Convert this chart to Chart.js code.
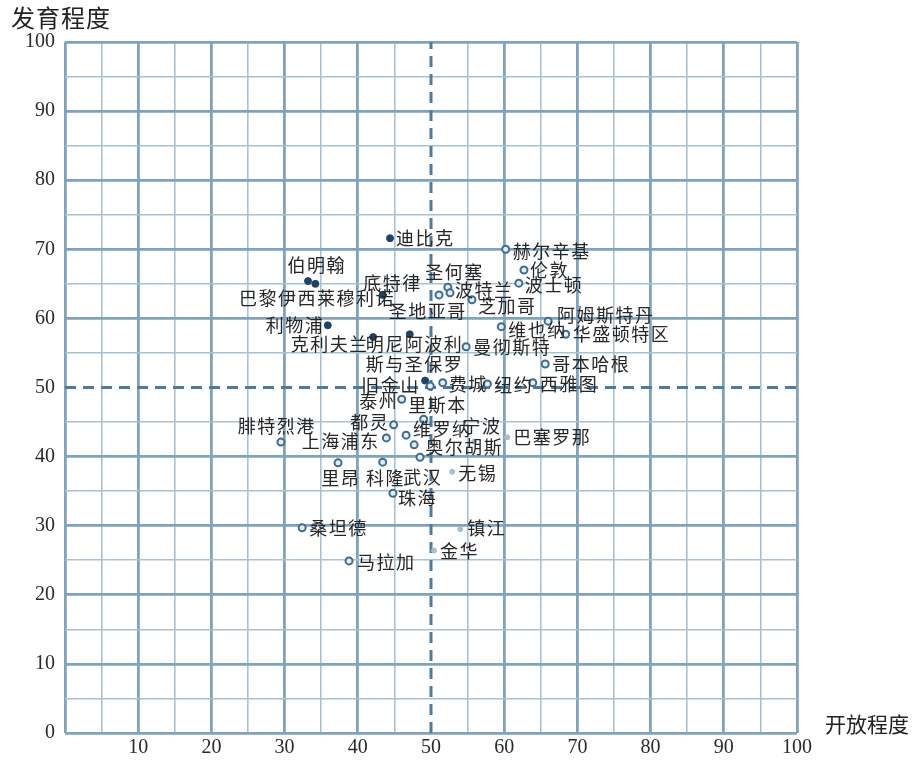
<!DOCTYPE html>
<html lang="zh">
<head>
  <meta charset="UTF-8">
  <title>开放程度与发育程度</title>
  <script src="https://cdn.jsdelivr.net/npm/chart.js"></script>
  <style>
    * { margin: 0; padding: 0; box-sizing: border-box; }
    body { background: #fff; width: 917px; height: 767px; overflow: hidden; }
    .wrap { position: relative; width: 917px; height: 767px; }
  </style>
</head>
<body>
  <div class="wrap">
    <canvas id="chart" width="917" height="767"></canvas>
  </div>

  <script>
    // city names, openness (x) and development (y), marker group
    const cities = [
      '迪比克', '赫尔辛基', '伦敦', '波士顿', '伯明翰', '巴黎伊西莱穆利诺', '底特律',
      '圣何塞', '波特兰', '圣地亚哥', '芝加哥', '阿姆斯特丹', '维也纳', '华盛顿特区',
      '利物浦', '克利夫兰', '明尼阿波利斯与圣保罗', '曼彻斯特', '哥本哈根',
      '旧金山', '', '费城', '纽约', '西雅图', '泰州', '里斯本', '都灵', '上海浦东',
      '维罗纳', '宁波', '奥尔胡斯', '巴塞罗那', '腓特烈港', '里昂', '科隆', '武汉',
      '无锡', '珠海', '桑坦德', '镇江', '金华', '马拉加'
    ];
    const openness = [
      44.4, 60.2, 62.7, 62.0, 33.2, 34.2, 43.4,
      52.3, 52.6, 51.1, 55.6, 66.0, 59.6, 68.4,
      35.9, 42.1, 47.1, 54.8, 65.6,
      49.2, 49.9, 51.6, 57.7, 63.9, 46.0, 49.0, 44.9, 43.9,
      46.6, 55.9, 47.7, 60.4, 29.5, 37.3, 43.4, 48.5,
      52.9, 44.8, 32.4, 54.0, 50.4, 38.8
    ];
    const development = [
      71.6, 70.0, 67.0, 65.1, 65.4, 65.0, 63.4,
      64.5, 63.7, 63.4, 62.7, 59.6, 58.8, 57.7,
      59.0, 57.3, 57.7, 55.9, 53.4,
      51.0, 50.2, 50.7, 50.5, 50.7, 48.3, 45.4, 44.6, 42.7,
      43.1, 42.2, 41.7, 42.8, 42.1, 39.1, 39.2, 39.9,
      37.8, 34.7, 29.7, 29.5, 26.4, 24.9
    ];
    // f = filled dot, r = ring, p = pale dot
    const groups = [
      'f', 'r', 'r', 'r', 'f', 'f', 'f',
      'r', 'r', 'r', 'r', 'r', 'r', 'r',
      'f', 'f', 'f', 'r', 'r',
      'f', 'r', 'r', 'r', 'r', 'r', 'r', 'r', 'r',
      'r', 'p', 'r', 'p', 'r', 'r', 'r', 'r',
      'p', 'r', 'r', 'p', 'p', 'r'
    ];
    const tickValues = [0, 10, 20, 30, 40, 50, 60, 70, 80, 90, 100];

    // label placement: [dx, dy, align]  (l = text starts right of point, r = ends left of it, c = centred)
    const labelPos = [
      [6, 0, 'l'], [7, 2, 'l'], [6, 0, 'l'], [6, 2, 'l'], [8, -16, 'c'], [1, 14, 'c'], [9, -12, 'c'],
      [6, -15, 'c'], [5, -3, 'l'], [-12, 16, 'c'], [6, 6, 'l'], [9, -6, 'l'], [7, 3, 'l'], [7, 0, 'l'],
      [-5, 0, 'r'], [-6, 7, 'r'], [4, 10, 'c'], [7, 0, 'l'], [7, 0, 'l'],
      [-7, 5, 'r'], [0, 0, 'l'], [6, 1, 'l'], [7, 1, 'l'], [7, 1, 'l'], [-5, 2, 'r'], [13, -14, 'c'], [-6, -3, 'r'], [-8, 3, 'r'],
      [7, -6, 'l'], [7, -15, 'c'], [11, 2, 'l'], [6, 0, 'l'], [-5, -16, 'c'], [2, 15, 'c'], [2, 16, 'c'], [2, 20, 'c'],
      [6, 1, 'l'], [5, 5, 'l'], [7, 0, 'l'], [7, -1, 'l'], [6, 1, 'l'], [8, 1, 'l']
    ];

    const CJK = '"Noto Sans CJK SC", "Noto Sans", sans-serif';
    const SERIF = '"Liberation Serif", "DejaVu Serif", serif';

    const points = openness.map((x, i) => ({ x: x, y: development[i] }));

    const styleFill = { f: '#1d4468', r: '#e3edf4', p: '#a7bccc' };
    const styleBorder = { f: '#1d4468', r: '#3d6d93', p: '#a7bccc' };
    const styleRadius = { f: 3.5, r: 3.5, p: 2.5 };

    function gridWidth(v) {
      if (v === 50) return 0;
      return v % 10 === 0 ? 2.8 : 1.6;
    }
    function gridColor(v) {
      return v % 10 === 0 ? '#80a3bd' : '#aac1d2';
    }

    // draws text with spacing between glyphs; x is the anchor for the given align
    function spacedText(ctx, text, x, y, align, gap) {
      const w = ctx.measureText(text).width + gap * (text.length - 1);
      let sx = x;
      if (align === 'r') sx = x - w;
      else if (align === 'c') sx = x - w / 2;
      ctx.textAlign = 'left';
      for (const ch of text) {
        ctx.fillText(ch, sx, y);
        sx += ctx.measureText(ch).width + gap;
      }
    }

    const overlay = {
      id: 'overlay',
      beforeDatasetsDraw(chart) {
        const { ctx, chartArea: a, scales: { x, y } } = chart;
        ctx.save();
        ctx.strokeStyle = '#4c7ca2';
        ctx.lineWidth = 3;
        ctx.setLineDash([11, 7]);
        const px = x.getPixelForValue(50);
        const py = y.getPixelForValue(50);
        ctx.beginPath();
        ctx.moveTo(px, a.bottom);
        ctx.lineTo(px, a.top);
        ctx.stroke();
        ctx.beginPath();
        ctx.moveTo(a.left, py);
        ctx.lineTo(a.right, py);
        ctx.stroke();
        ctx.restore();
      },
      afterDatasetsDraw(chart) {
        const { ctx } = chart;
        const meta = chart.getDatasetMeta(0);
        ctx.save();
        ctx.font = '18px ' + CJK;
        ctx.fillStyle = '#262626';
        ctx.textBaseline = 'middle';
        meta.data.forEach((el, i) => {
          const name = cities[i];
          if (!name) return;
          const [dx, dy, al] = labelPos[i];
          if (name === '明尼阿波利斯与圣保罗') {
            spacedText(ctx, '明尼阿波利', el.x + dx, el.y + dy, al, 1.5);
            spacedText(ctx, '斯与圣保罗', el.x + dx, el.y + dy + 20, al, 1.5);
          } else {
            spacedText(ctx, name, el.x + dx, el.y + dy, al, 1.5);
          }
        });
        // axis titles
        ctx.font = '24px ' + CJK;
        ctx.fillStyle = '#222';
        spacedText(ctx, '发育程度', 11, 18, 'l', 1);
        ctx.font = '21px ' + CJK;
        spacedText(ctx, '开放程度', 825, 724, 'l', 0);
        ctx.restore();
      }
    };

    new Chart(document.getElementById('chart'), {
      type: 'scatter',
      data: {
        datasets: [{
          data: points,
          backgroundColor: ctx => styleFill[groups[ctx.dataIndex]],
          borderColor: ctx => styleBorder[groups[ctx.dataIndex]],
          borderWidth: ctx => groups[ctx.dataIndex] === 'r' ? 2 : 1,
          pointRadius: ctx => styleRadius[groups[ctx.dataIndex]],
          pointHoverRadius: ctx => styleRadius[groups[ctx.dataIndex]]
        }]
      },
      options: {
        responsive: false,
        animation: false,
        layout: { padding: { left: 0, top: 42, right: 120, bottom: 0 } },
        plugins: {
          legend: { display: false },
          tooltip: { enabled: false }
        },
        scales: {
          x: {
            min: 0,
            max: 100,
            afterFit: s => { s.height = 34; },
            border: { display: false },
            grid: {
              drawTicks: false,
              lineWidth: c => gridWidth(c.tick.value),
              color: c => gridColor(c.tick.value)
            },
            ticks: {
              stepSize: 5,
              padding: 3,
              maxRotation: 0,
              autoSkip: false,
              color: '#2a2a2a',
              font: { family: SERIF, size: 20 },
              callback: v => (v !== 0 && tickValues.includes(v)) ? String(v) : ''
            }
          },
          y: {
            min: 0,
            max: 100,
            afterFit: s => { s.width = 65; },
            border: { display: false },
            grid: {
              drawTicks: false,
              lineWidth: c => gridWidth(c.tick.value),
              color: c => gridColor(c.tick.value)
            },
            ticks: {
              stepSize: 5,
              padding: 10,
              autoSkip: false,
              color: '#2a2a2a',
              font: { family: SERIF, size: 20 },
              callback: v => tickValues.includes(v) ? String(v) : ''
            }
          }
        }
      },
      plugins: [overlay]
    });
  </script>
</body>
</html>
